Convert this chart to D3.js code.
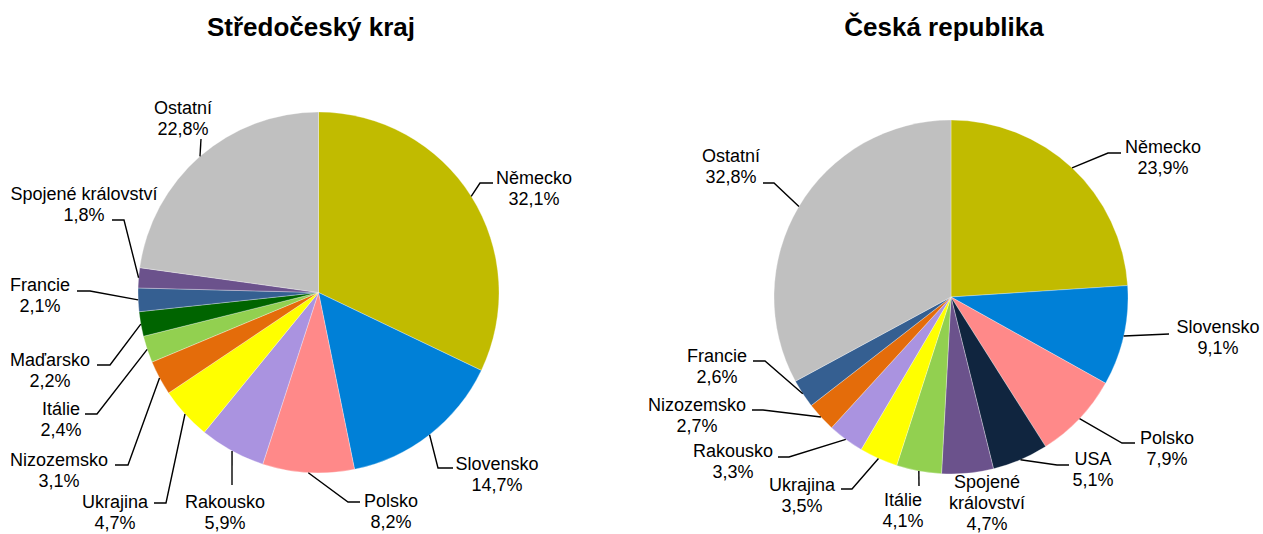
<!DOCTYPE html>
<html>
<head>
<meta charset="utf-8">
<script src="https://cdn.jsdelivr.net/npm/d3@7"></script>
<style>
  html, body { margin: 0; padding: 0; background: #fff; }
  svg { display: block; font-family: "Liberation Sans", Arial, sans-serif; }
</style>
</head>
<body>
<svg id="chart" width="1263" height="534"></svg>
<script>
// ---- Data ----
const titles = ["Středočeský kraj", "Česká republika"];

const regionCategories = ["Německo", "Slovensko", "Polsko", "Rakousko", "Ukrajina", "Nizozemsko",
  "Itálie", "Maďarsko", "Francie", "Spojené království", "Ostatní"];
const regionValues = [32.1, 14.7, 8.2, 5.9, 4.7, 3.1, 2.4, 2.2, 2.1, 1.8, 22.8];

const czCategories = ["Německo", "Slovensko", "Polsko", "USA", "Spojené království", "Itálie",
  "Ukrajina", "Rakousko", "Nizozemsko", "Francie", "Ostatní"];
const czValues = [23.9, 9.1, 7.9, 5.1, 4.7, 4.1, 3.5, 3.3, 2.7, 2.6, 32.8];

// ---- Styles ----
const colorOf = {
  "Německo": "#C1BB00",
  "Slovensko": "#0080D7",
  "Polsko": "#FF8989",
  "USA": "#10253F",
  "Rakousko": "#AA93E0",
  "Ukrajina": "#FFFF00",
  "Nizozemsko": "#E46C0A",
  "Itálie": "#92D050",
  "Maďarsko": "#006400",
  "Francie": "#355F91",
  "Spojené království": "#6B528C",
  "Ostatní": "#C0C0C0"
};

// ---- Layout (label anchor x, first baseline y, leader points after the rim point, split name) ----
const regionLayout = {
  "Německo":            {x: 534, y: 184, pts: [[480,183],[493,183]]},
  "Slovensko":          {x: 497, y: 470, pts: [[438,468],[453,468]]},
  "Polsko":             {x: 391, y: 507, pts: [[348,502],[360,502]]},
  "Rakousko":           {x: 225, y: 508, pts: [[232,485]]},
  "Ukrajina":           {x: 115, y: 508, pts: [[166,503],[154,503]]},
  "Nizozemsko":         {x: 59,  y: 466, pts: [[128,465],[115,465]]},
  "Itálie":             {x: 61,  y: 415, pts: [[97,414],[85,414]]},
  "Maďarsko":           {x: 50,  y: 366, pts: [[110,365],[97,365]]},
  "Francie":            {x: 40,  y: 291, pts: [[90,291],[77,291]]},
  "Spojené království": {x: 84,  y: 200, pts: [[124,220],[112,220]]},
  "Ostatní":            {x: 183, y: 114, pts: [[201,139]]}
};
const czLayout = {
  "Německo":            {x: 1163, y: 153, pts: [[1108,153],[1121,153]]},
  "Slovensko":          {x: 1218, y: 333, pts: [[1169,334]]},
  "Polsko":             {x: 1167, y: 444, pts: [[1122,443],[1135,443]]},
  "USA":                {x: 1093, y: 465, pts: [[1057,465],[1069,465]]},
  "Spojené království": {x: 987,  y: 488, pts: [], split: true},
  "Itálie":             {x: 903,  y: 506, pts: [[919,486]]},
  "Ukrajina":           {x: 802,  y: 491, pts: [[852,489],[841,489]]},
  "Rakousko":           {x: 733,  y: 457, pts: [[789,457],[778,457]]},
  "Nizozemsko":         {x: 697,  y: 411, pts: [[763,410],[752,410]]},
  "Francie":            {x: 717,  y: 362, pts: [[765,361],[753,361]]},
  "Ostatní":            {x: 731,  y: 162, pts: [[774,183],[763,183]]}
};

const charts = [
  {title: titles[0], cats: regionCategories, vals: regionValues, cx: 318.5, cy: 292.5, r: 180.5, tx: 311, layout: regionLayout},
  {title: titles[1], cats: czCategories, vals: czValues, cx: 951, cy: 297, r: 177, tx: 944, layout: czLayout}
];

const svg = d3.select("#chart");
const fmt = v => d3.format(".1f")(v).replace(".", ",") + "%";
const lineH = 21;

charts.forEach(ch => {
  svg.append("text")
    .attr("x", ch.tx).attr("y", 36)
    .attr("text-anchor", "middle")
    .attr("font-size", 26).attr("font-weight", "bold")
    .attr("fill", "#000")
    .text(ch.title);

  const data = ch.cats.map((c, i) => ({cat: c, val: ch.vals[i]}));
  const pie = d3.pie().sort(null).value(d => d.val).startAngle(0).endAngle(2 * Math.PI);
  const arcs = pie(data);
  const arc = d3.arc().innerRadius(0).outerRadius(ch.r);
  const rim = d3.arc().innerRadius(ch.r).outerRadius(ch.r);

  const g = svg.append("g").attr("transform", `translate(${ch.cx},${ch.cy})`);
  g.selectAll("path.slice").data(arcs).enter().append("path")
    .attr("class", "slice")
    .attr("d", arc)
    .attr("fill", d => colorOf[d.data.cat])
    .attr("stroke", "#ffffff").attr("stroke-opacity", 0.5).attr("stroke-width", 0.6);

  const line = d3.line();
  arcs.forEach(d => {
    const L = ch.layout[d.data.cat];
    if (L.pts.length) {
      const c = rim.centroid(d);
      const start = [ch.cx + c[0], ch.cy + c[1]];
      svg.append("path")
        .attr("d", line([start].concat(L.pts)))
        .attr("fill", "none").attr("stroke", "#000").attr("stroke-width", 1.4);
    }
    const lines = L.split ? d.data.cat.split(" ") : [d.data.cat];
    lines.push(fmt(d.data.val));
    const t = svg.append("text")
      .attr("text-anchor", "middle").attr("font-size", 18).attr("fill", "#000");
    lines.forEach((s, i) => {
      t.append("tspan").attr("x", L.x).attr("y", L.y + i * lineH).text(s);
    });
  });
});
</script>
</body>
</html>
